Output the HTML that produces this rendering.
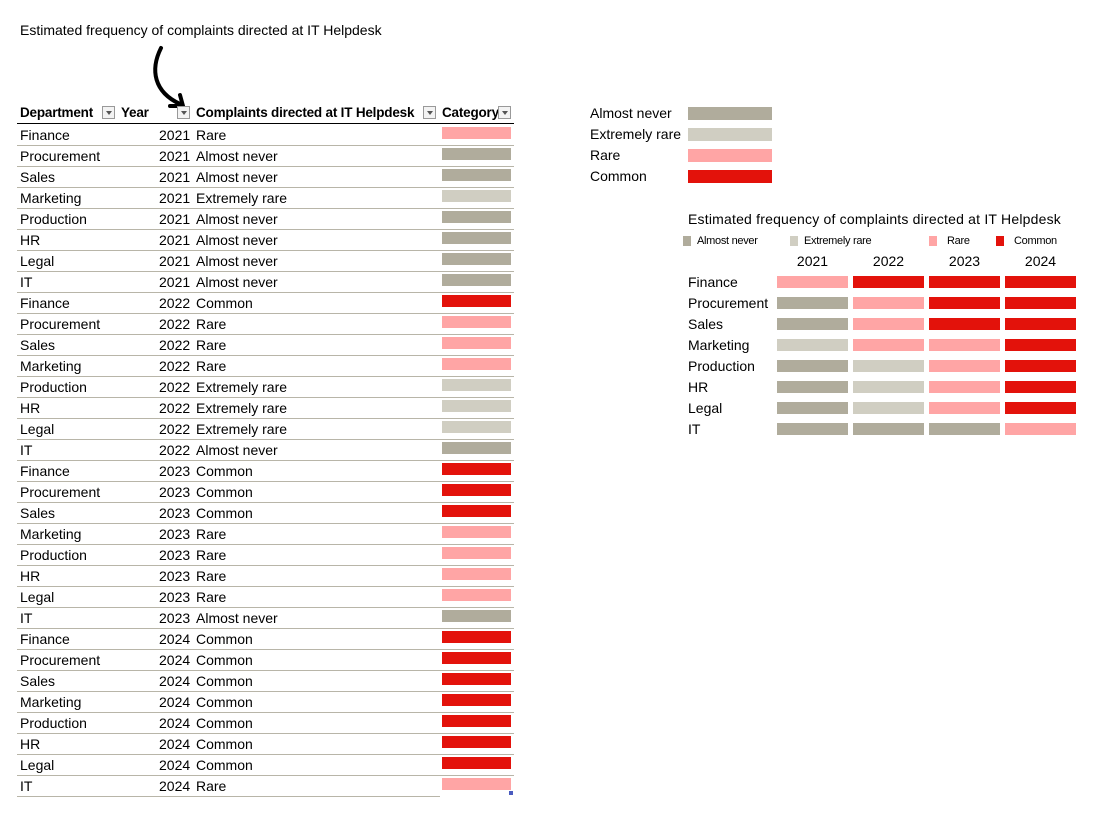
<!DOCTYPE html>
<html><head><meta charset="utf-8">
<style>
body{margin:0;width:1102px;height:828px;background:#fff;font-family:"Liberation Sans",sans-serif;color:#000;position:relative;overflow:hidden}
.t{position:absolute;font-size:14px;white-space:nowrap;line-height:16px}
.b{position:absolute}
.hd{font-weight:bold;font-size:13.5px;letter-spacing:-0.2px}
.dd{position:absolute;width:13px;height:13px;border:1px solid #999;background:#f3f3f3;box-sizing:border-box}
.dd:after{content:"";position:absolute;left:3px;top:4px;border-left:3px solid transparent;border-right:3px solid transparent;border-top:4px solid #555}
</style></head><body>
<div class="t" style="left:20px;top:22px">Estimated frequency of complaints directed at IT Helpdesk</div>
<svg class="b" style="left:140px;top:40px" width="50" height="80"><path d="M21 8 C10 30 14 52 40 64" stroke="#000" stroke-width="4" fill="none" stroke-linecap="round"/><path d="M30 66 L43 66 L40 55" stroke="#000" stroke-width="4" fill="none" stroke-linecap="round"/></svg>
<div class="t hd" style="left:20px;top:105px">Department</div>
<div class="dd" style="left:102px;top:106px"></div>
<div class="t hd" style="left:121px;top:105px">Year</div>
<div class="dd" style="left:177px;top:106px"></div>
<div class="t hd" style="left:196px;top:105px;width:226px;overflow:hidden">Complaints directed at IT Helpdesk</div>
<div class="dd" style="left:423px;top:106px"></div>
<div class="t hd" style="left:442px;top:105px;width:56px;overflow:hidden">Category</div>
<div class="dd" style="left:498px;top:106px"></div>
<div class="b" style="left:17px;top:123px;width:497px;height:1px;background:#000"></div>
<div id="tbl"></div>
<div id="leg"></div>
<div class="t" style="left:688px;top:211px;letter-spacing:0.2px">Estimated frequency of complaints directed at IT Helpdesk</div>
<div id="hm"></div>
<script>
const depts=["Finance","Procurement","Sales","Marketing","Production","HR","Legal","IT"];
const years=["2021","2022","2023","2024"];
const levels=["Almost never","Extremely rare","Rare","Common"];
const colors=["#b0ac9c","#d0cec2","#ffa5a5","#e3120b"];
const v2021=[2,0,0,1,0,0,0,0];
const v2022=[3,2,2,2,1,1,1,0];
const v2023=[3,3,3,2,2,2,2,0];
const v2024=[3,3,3,3,3,3,3,2];
const vals=[v2021,v2022,v2023,v2024];
function mk(parent,cls,style,text,name,inter){const e=document.createElement('div');e.className=cls;e.style.cssText=style;if(text)e.textContent=text;


parent.appendChild(e);return e;}
const tbl=document.getElementById('tbl');
const rowY=i=>124+21*i;
let r=0;
years.forEach((y,yi)=>{depts.forEach((d,di)=>{const v=vals[yi][di];const t=rowY(r);
mk(tbl,'t','left:20px;top:'+(t+3)+'px',d,'cell-department',false);
mk(tbl,'t','left:159px;top:'+(t+3)+'px',y,'cell-year',false);
mk(tbl,'t','left:196px;top:'+(t+3)+'px',levels[v],'cell-complaints',false);
mk(tbl,'b','left:442px;top:'+(t+3)+'px;width:69px;height:12px;background:'+colors[v],'','category-bar',false);
mk(tbl,'b','left:17px;top:'+(t+21)+'px;width:'+(r==31?423:497)+'px;height:1px;background:#b8b5a8','','row-line',false);
r++;});});
mk(tbl,'b','left:509px;top:791px;width:4px;height:4px;background:#4a5bbf','','resize-handle',true);
const leg=document.getElementById('leg');
levels.forEach((l,i)=>{mk(leg,'t','left:590px;top:'+(105+21*i)+'px',l,'legend-label',false);
mk(leg,'b','left:688px;top:'+(107+21*i)+'px;width:84px;height:13px;background:'+colors[i],'','legend-swatch',false);});
const hm=document.getElementById('hm');
const lx=[683,790,929,996];
levels.forEach((l,i)=>{mk(hm,'b','left:'+lx[i]+'px;top:236px;width:8px;height:10px;background:'+colors[i],'','heatmap-legend-swatch',false);
mk(hm,'t','left:'+(lx[i]+14+(i>=2?4:0))+'px;top:233px;font-size:11px;letter-spacing:-0.3px',l,'heatmap-legend-label',false);});
const colX=c=>777+76*c, rY=i=>276+21*i;
years.forEach((y,c)=>mk(hm,'t','left:'+colX(c)+'px;top:253px;width:71px;text-align:center',y,'heatmap-year-label',false));
depts.forEach((d,i)=>{mk(hm,'t','left:688px;top:'+(rY(i)-2)+'px',d,'heatmap-row-label',false);
years.forEach((y,c)=>mk(hm,'b','left:'+colX(c)+'px;top:'+rY(i)+'px;width:71px;height:12px;background:'+colors[vals[c][i]],'','heatmap-cell',false));});
</script>
</body></html>
